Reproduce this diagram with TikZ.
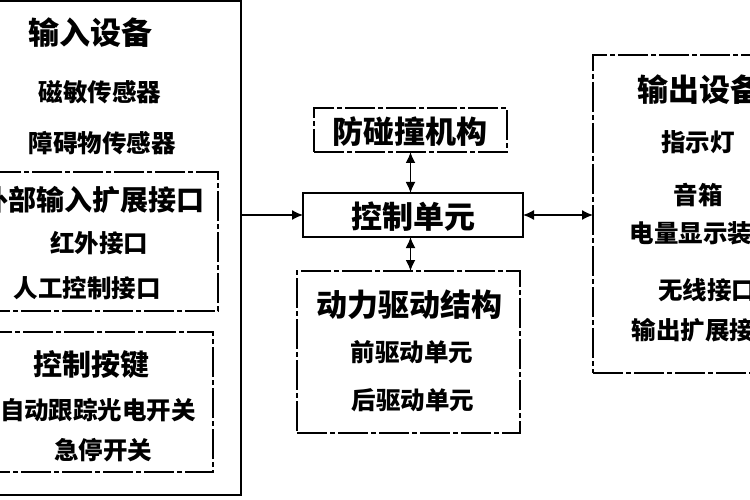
\documentclass[tikz,border=0pt]{standalone}
\usepackage{fontspec}
\setmainfont{Noto Sans CJK SC}
\usetikzlibrary{positioning}
\usetikzlibrary{arrows.meta}

\begin{document}
\begin{tikzpicture}[x=1pt, y=-1pt, line width=1.3pt, outer sep=0, >={Latex[length=11pt,width=10pt]},
        box/.style={draw, rectangle, inner sep=0},
        dashbox/.style={box, dash pattern=on 30pt off 3pt on 5pt off 3pt},
        head/.style={inner sep=0, font=\bfseries\fontsize{31}{31}\selectfont},
        item/.style={inner sep=0, font=\bfseries\fontsize{24.5}{24.5}\selectfont}]
        \useasboundingbox (0,0) rectangle (750,500);
        % input devices
        \node [box, minimum width=261pt, minimum height=494pt] (1) at (110.5,248) {};
        \node [head] (2) at (90,33) {输入设备};
        \node [item] (3) at (100,92) {磁敏传感器};
        \node [item] (4) at (102,143) {障碍物传感器};
        \node [dashbox, minimum width=238pt, minimum height=139pt] (5) at (99,241.5) {};
        \node [item, font=\bfseries\fontsize{28}{28}\selectfont] (6) at (92.5,200) {外部输入扩展接口};
        \node [item] (7) at (99,243) {红外接口};
        \node [item] (8) at (87,288) {人工控制接口};
        \node [dashbox, minimum width=233pt, minimum height=140pt] (9) at (96.5,402) {};
        \node [item, font=\bfseries\fontsize{29}{29}\selectfont] (10) at (92,365) {控制按键};
        \node [item] (11) at (98,410) {自动跟踪光电开关};
        \node [item] (12) at (103,450) {急停开关};
        % control unit and mechanisms
        \node [box, minimum width=220pt, minimum height=44pt] (13) at (413,215) {};
        \node [head] (14) at (413,217) {控制单元};
        \node [dashbox, minimum width=193pt, minimum height=44pt, above=41pt of 13, xshift=-2.5pt] (15) {};
        \node [head] (16) at (410,132) {防碰撞机构};
        \node [dashbox, minimum width=223pt, minimum height=162pt, below=34pt of 13, xshift=-4.5pt] (17) {};
        \node [head] (18) at (409,305) {动力驱动结构};
        \node [item] (19) at (412,352) {前驱动单元};
        \node [item] (20) at (413,400) {后驱动单元};
        % output devices
        \node [dashbox, minimum width=217pt, minimum height=318pt] (21) at (701.5,214) {};
        \node [head] (22) at (699,90) {输出设备};
        \node [item] (23) at (698,142) {指示灯};
        \node [item] (24) at (698,195) {音箱};
        \node [item] (25) at (703,233) {电量显示装置};
        \node [item] (26) at (707,290) {无线接口};
        \node [item] (27) at (705,330) {输出扩展接口};
        % connections
        \draw[->] (13.west -| 1.east) -- (13.west);
        \draw[<->] (13.east) -- (13.east -| 21.west);
        \draw[<->, line width=1.8pt] (15.south) -- (15.south |- 13.north);
        \draw[<->, line width=1.8pt] (13.south -| 15.south) -- (17.north -| 15.south);
\end{tikzpicture}
\end{document}
